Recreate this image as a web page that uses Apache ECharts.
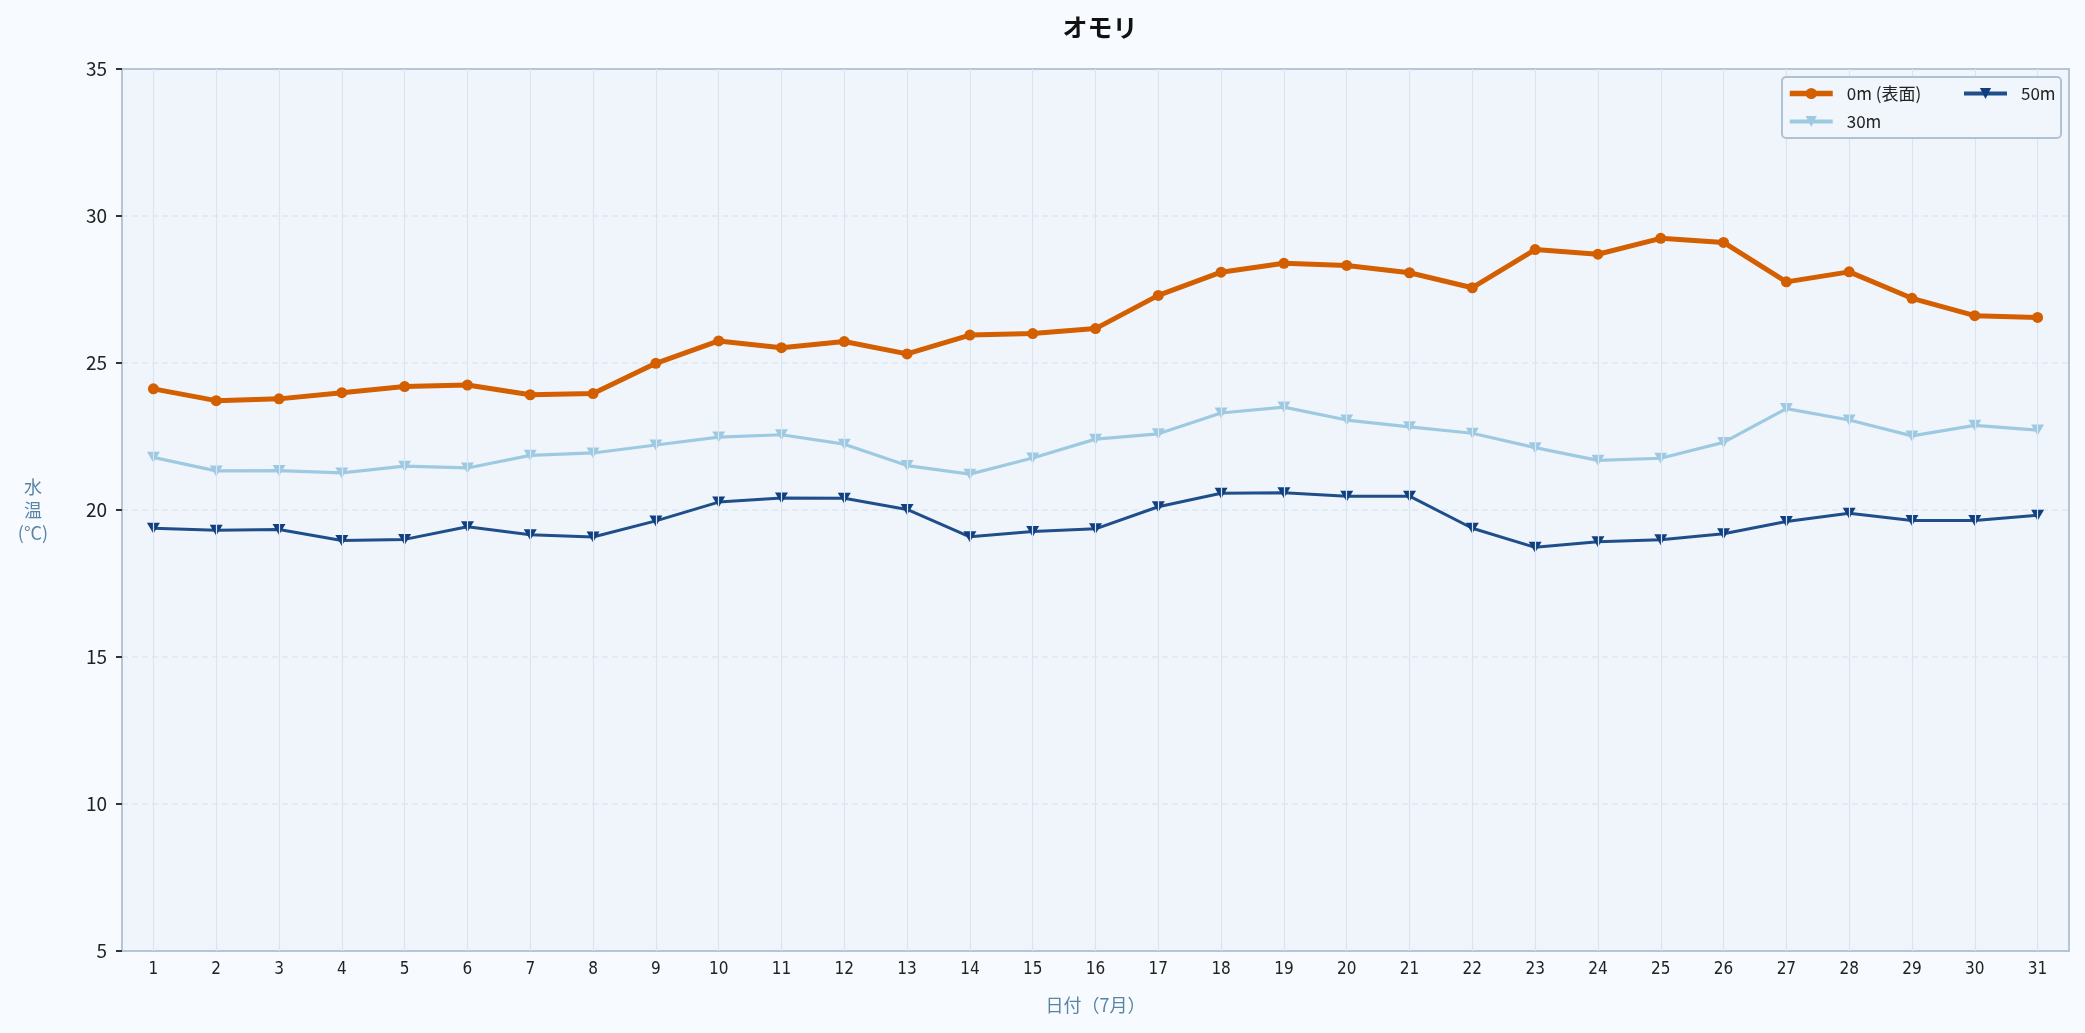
<!DOCTYPE html>
<html>
<head>
<meta charset="utf-8">
<script src="https://cdn.jsdelivr.net/npm/echarts@6/dist/echarts.min.js"></script>
<style>
html,body{margin:0;padding:0;background:#f7fbff;}
#c{width:2085px;height:1033px;}
</style>
</head>
<body>
<div id="c"></div>
<script>
const days = ['1','2','3','4','5','6','7','8','9','10','11','12','13','14','15','16','17','18','19','20','21','22','23','24','25','26','27','28','29','30','31'];
const yTicks = [5, 10, 15, 20, 25, 30, 35];
const seriesNames = ['0m (表面)', '30m', '50m'];
const temp0m = [24.12, 23.72, 23.78, 23.99, 24.2, 24.25, 23.92, 23.96, 24.99, 25.75, 25.52, 25.73, 25.31, 25.95, 26.0, 26.17, 27.3, 28.09, 28.39, 28.32, 28.07, 27.56, 28.86, 28.7, 29.24, 29.1, 27.76, 28.1, 27.2, 26.61, 26.55];
const temp30m = [21.79, 21.33, 21.34, 21.26, 21.49, 21.43, 21.86, 21.94, 22.21, 22.48, 22.56, 22.24, 21.51, 21.22, 21.77, 22.41, 22.59, 23.3, 23.5, 23.06, 22.83, 22.61, 22.12, 21.69, 21.76, 22.3, 23.45, 23.06, 22.52, 22.88, 22.72];
const temp50m = [19.38, 19.31, 19.34, 18.96, 19.0, 19.43, 19.16, 19.08, 19.63, 20.27, 20.41, 20.4, 20.02, 19.09, 19.27, 19.36, 20.11, 20.57, 20.59, 20.47, 20.47, 19.38, 18.73, 18.92, 18.99, 19.19, 19.61, 19.89, 19.64, 19.64, 19.82];

const FONT = '"Noto Sans CJK JP", "Noto Sans", sans-serif';
const legendText = { fontFamily: FONT, fontSize: 17, color: '#222', padding: [0, 0, 0, 9] };
const chart = echarts.init(document.getElementById('c'));
chart.setOption({
  backgroundColor: '#f7fbff',
  animation: false,
  textStyle: { fontFamily: FONT },
  title: {
    text: 'オモリ',
    left: 1095, top: 10, textAlign: 'center',
    textStyle: { fontFamily: FONT, fontSize: 25, fontWeight: 'bold', color: '#111' }
  },
  graphic: [
    {
      type: 'rect', z: 10,
      shape: { x: 1782, y: 77, width: 279, height: 61, r: 4 },
      style: { fill: '#f1f6fc', stroke: '#afc1d3', lineWidth: 2 }
    },
    {
      type: 'text', z: 10,
      style: {
        text: '水\n温\n(°C)', x: 33, y: 510, align: 'center', verticalAlign: 'middle',
        fontFamily: FONT, fontSize: 18, lineHeight: 23, fill: '#5b84a3'
      }
    }
  ],
  legend: [
    {
      data: [
        { name: seriesNames[0], lineStyle: { width: 5.5 } },
        { name: seriesNames[1], lineStyle: { width: 4 } }
      ],
      orient: 'vertical', left: 1782, top: 80, z: 20,
      itemWidth: 43, itemHeight: 14, itemGap: 11, padding: [5, 5, 5, 5],
      textStyle: legendText
    },
    {
      data: [{ name: seriesNames[2], lineStyle: { width: 4 } }],
      orient: 'vertical', left: 1957, top: 80, z: 20,
      itemWidth: 43, itemHeight: 14, padding: [5, 5, 5, 5],
      textStyle: legendText
    }
  ],
  grid: {
    left: 122, right: 16, top: 69, bottom: 82,
    show: true, backgroundColor: '#f0f5fc', borderColor: '#b4c6d6', borderWidth: 2
  },
  xAxis: {
    type: 'category', data: days, boundaryGap: true,
    name: '日付（7月）', nameLocation: 'middle', nameGap: 45,
    nameTextStyle: { fontFamily: FONT, fontSize: 18, color: '#5b84a3' },
    axisLine: { lineStyle: { color: '#b4c6d6', width: 2 } },
    axisTick: { alignWithLabel: true, length: 6, lineStyle: { color: '#333', width: 2 } },
    axisLabel: { margin: 10, fontFamily: '"Liberation Sans Narrow", "DejaVu Sans Condensed", sans-serif', fontSize: 17, color: '#222' },
    splitLine: { show: false }
  },
  yAxis: {
    type: 'value', min: yTicks[0], max: yTicks[yTicks.length - 1], interval: 5,
    axisLine: { show: true, lineStyle: { color: '#b4c6d6', width: 2 } },
    axisTick: { show: true, length: 6, lineStyle: { color: '#333', width: 2 } },
    axisLabel: { margin: 15, fontFamily: FONT, fontSize: 19, color: '#222' },
    splitLine: { show: true, showMinLine: false, showMaxLine: false, lineStyle: { color: '#dde6f0', width: 1.5, type: [6, 4] } }
  },
  series: [
    {
      name: 'grid-v', type: 'line', data: [], z: 1, silent: true,
      markLine: {
        silent: true, symbol: 'none', label: { show: false },
        lineStyle: { color: '#dbe4ee', width: 1.2, type: 'solid' },
        emphasis: { disabled: true },
        data: days.map(d => ({ xAxis: d }))
      }
    },
    {
      name: seriesNames[1], type: 'line', data: temp30m, z: 3,
      symbol: 'triangle', symbolRotate: 180, symbolSize: [13, 11],
      lineStyle: { color: '#9ecae1', width: 3.2 },
      itemStyle: { color: '#9ecae1' }
    },
    {
      name: seriesNames[2], type: 'line', data: temp50m, z: 4,
      symbol: 'triangle', symbolRotate: 180, symbolSize: [13, 11],
      lineStyle: { color: '#1f4e8a', width: 3 },
      itemStyle: { color: '#0f3f80' }
    },
    {
      name: seriesNames[0], type: 'line', data: temp0m, z: 5,
      symbol: 'circle', symbolSize: 11,
      lineStyle: { color: '#d35f00', width: 5 },
      itemStyle: { color: '#d35f00' }
    }
  ]
});
</script>
</body>
</html>
